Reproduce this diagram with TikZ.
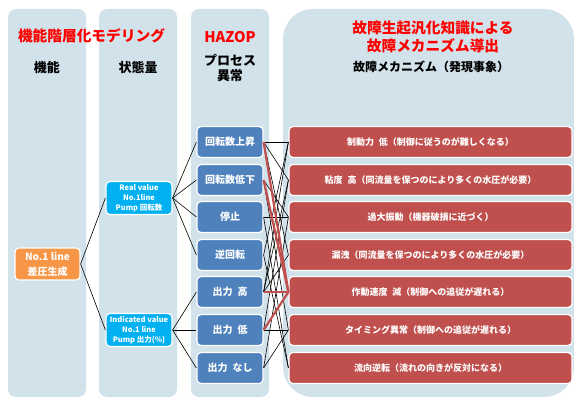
\documentclass[tikz,border=0pt]{standalone}
\usepackage{fontspec}
\setmainfont{Noto Sans CJK JP}
\definecolor{laneblue}{HTML}{D2E2EA}
\definecolor{hazblue}{HTML}{4F81BD}
\definecolor{mechred}{HTML}{C0504D}
\definecolor{statecyan}{HTML}{00B0F0}
\definecolor{funcorange}{HTML}{F79646}
\usetikzlibrary{positioning}

\begin{document}
\begin{tikzpicture}[x=1pt, y=-1pt,
                    every node/.style={align=center, inner sep=0pt},
                    lane/.style={fill=laneblue, rounded corners=8pt},
                    title/.style={text=red, font=\bfseries\fontsize{14.7}{18}\selectfont},
                    head/.style={font=\bfseries\fontsize{13}{15.5}\selectfont},
                    box/.style={draw=white, line width=1.2pt, rounded corners=4pt, text=white},
                    func/.style={box, fill=funcorange, minimum width=65pt, minimum height=32pt,
                                 font=\bfseries\fontsize{10}{15}\selectfont},
                    state/.style={box, fill=statecyan, minimum width=66pt, minimum height=33pt,
                                  font=\bfseries\fontsize{7.5}{10}\selectfont},
                    anom/.style={box, fill=hazblue, minimum width=66pt, minimum height=31pt,
                                 font=\bfseries\fontsize{10}{12}\selectfont},
                    mech/.style={box, fill=mechred, minimum width=283pt, minimum height=31pt,
                                 font=\bfseries\fontsize{9}{11}\selectfont},
                    link/.style={black, line width=0.6pt},
                    hot/.style={mechred, line width=2.2pt}]

\useasboundingbox (0,0) rectangle (574,401);

% Lanes
\fill[lane] (8,9) rectangle (86,397);
\fill[lane] (99,9) rectangle (177,397);
\fill[lane] (191,9) rectangle (269,397);
\fill[lane, rounded corners=30pt] (283,9) rectangle (574,397);

% Headings
\node[title] (tmodel) at (91.5,36) {機能階層化モデリング};
\node[title] (thazop) at (230,37) {HAZOP};
\node[title] (tfail) at (433,37) {故障生起汎化知識による\\故障メカニズム導出};
\node[head] (hfunc) at (47,68) {機能};
\node[head] (hstate) at (138,68) {状態量};
\node[head] (hproc) at (230,68) {プロセス\\異常};
\node[head, font=\bfseries\fontsize{12}{15}\selectfont] (hmech) at (431,67) {故障メカニズム（発現事象）};

% Nodes
\node[func] (f1) at (47.5,264) {No.1 line\\差圧生成};

\node[state] (s1) at (139,198) {Real value\\No.1line\\Pump 回転数};
\node[state] (s2) at (139,330) {Indicated value\\No.1 line\\Pump 出力(\%)};

\node[anom] (a1) at (230,142) {回転数上昇};
\node[anom] (a2) at (230,180) {回転数低下};
\node[anom] (a3) at (230,217) {停止};
\node[anom] (a4) at (230,255) {逆回転};
\node[anom] (a5) at (230,292) {出力\hspace{5pt}高};
\node[anom] (a6) at (230,330) {出力\hspace{5pt}低};
\node[anom] (a7) at (230,368) {出力\hspace{5pt}なし};

\node[mech] (m1) at (430.5,142) {制動力\hspace{5pt}低（制御に従うのが難しくなる）};
\node[mech] (m2) at (430.5,180) {粘度\hspace{5pt}高（同流量を保つのにより多くの水圧が必要）};
\node[mech] (m3) at (430.5,217) {過大振動（機器破損に近づく）};
\node[mech] (m4) at (430.5,255) {漏洩（同流量を保つのにより多くの水圧が必要）};
\node[mech] (m5) at (430.5,292) {作動速度\hspace{5pt}減（制御への追従が遅れる）};
\node[mech] (m6) at (430.5,330) {タイミング異常（制御への追従が遅れる）};
\node[mech] (m7) at (430.5,368) {流向逆転（流れの向きが反対になる）};

% Edges
\draw[link] (f1.east) -- (s1.west);
\draw[link] (f1.east) -- (s2.west);

\draw[link] (s1.east) -- (a1.west);
\draw[link] (s1.east) -- (a2.west);
\draw[link] (s1.east) -- (a3.west);
\draw[link] (s1.east) -- (a4.west);
\draw[link] (s2.east) -- (a5.west);
\draw[link] (s2.east) -- (a6.west);
\draw[link] (s2.east) -- (a7.west);

\draw[link] (a1.east) -- (m1.west);
\draw[link] (a1.east) -- (m2.west);
\draw[link] (a1.east) -- (m4.west);
\draw[link] (a2.east) -- (m3.west);
\draw[link] (a2.east) -- (m6.west);
\draw[link] (a3.east) -- (m3.west);
\draw[link] (a3.east) -- (m7.west);
\draw[link] (a4.east) -- (m7.west);
\draw[link] (a4.east) -- (m1.west);
\draw[link] (a5.east) -- (m1.west);
\draw[link] (a5.east) -- (m2.west);
\draw[link] (a5.east) -- (m4.west);
\draw[link] (a6.east) -- (m2.west);
\draw[link] (a6.east) -- (m6.west);
\draw[link] (a7.east) -- (m3.west);
\draw[link] (a7.east) -- (m6.west);

\draw[hot] (a1.east) -- (m5.west);
\draw[hot] (a2.east) -- (m5.west);
\draw[hot] (a5.east) -- (m5.west);
\draw[hot] (a6.east) -- (m5.west);

\end{tikzpicture}
\end{document}
